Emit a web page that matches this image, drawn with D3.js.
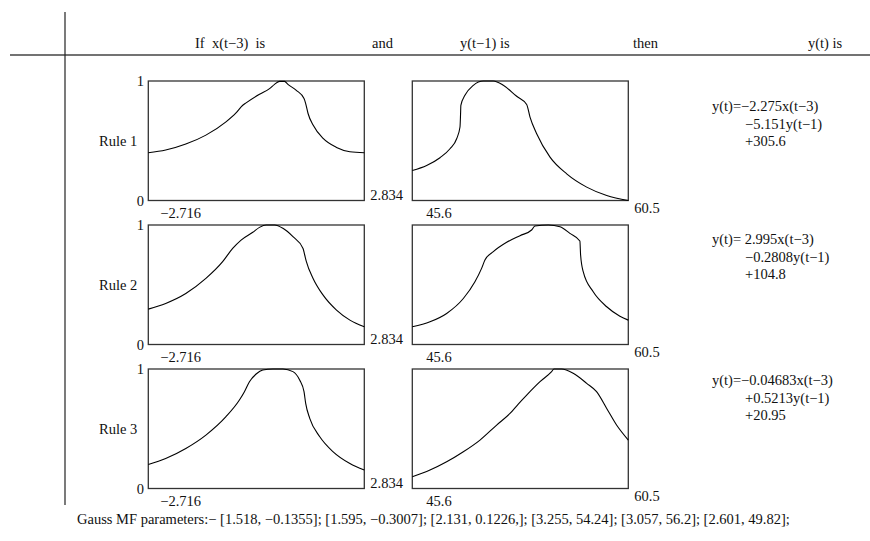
<!DOCTYPE html>
<html>
<head>
<meta charset="utf-8">
<script src="https://cdn.jsdelivr.net/npm/d3@7/dist/d3.min.js"></script>
<style>
  html, body { margin: 0; padding: 0; background: #fff; }
  svg { display: block; }
  text { font-family: "Liberation Serif", "Times New Roman", serif; font-size: 14.5px; fill: #111; white-space: pre; }
</style>
</head>
<body>
<svg id="chart" width="870" height="541"></svg>
<script>
// Column headings of the rule table
const headers = ["If  x(t\u22123)  is", "and", "y(t\u22121) is", "then", "y(t) is"];
const headerX = [195, 372, 460, 633, 808];

// Rule names
const rules = ["Rule 1", "Rule 2", "Rule 3"];

// Input ranges
const xRange = [-2.716, 2.834];
const yRange = [45.6, 60.5];
const muTicks = [0, 1];

// Membership curves of x(t-3), one per rule: [x, membership]
const xMF1 = [[-2.716,0.400],[-2.269,0.422],[-1.752,0.472],[-1.236,0.547],[-0.720,0.658],[-0.462,0.733],[-0.289,0.797],[-0.203,0.817],[0.141,0.889],[0.399,0.936],[0.528,0.972],[0.657,0.997],[0.786,0.997],[0.872,0.972],[1.087,0.922],[1.285,0.853],[1.328,0.811],[1.389,0.728],[1.518,0.631],[1.776,0.519],[2.120,0.444],[2.464,0.408],[2.834,0.400]];
const xMF2 = [[-2.716,0.296],[-2.269,0.344],[-1.752,0.427],[-1.236,0.553],[-0.806,0.693],[-0.548,0.804],[-0.332,0.874],[-0.031,0.939],[0.141,0.980],[0.313,1.000],[0.528,1.000],[0.743,0.972],[1.001,0.902],[1.260,0.804],[1.303,0.749],[1.346,0.693],[1.518,0.553],[1.776,0.413],[2.120,0.288],[2.464,0.204],[2.834,0.148]];
const xMF3 = [[-2.716,0.201],[-2.269,0.251],[-1.752,0.335],[-1.236,0.447],[-0.720,0.601],[-0.375,0.740],[-0.246,0.810],[-0.117,0.894],[0.055,0.958],[0.227,0.992],[0.485,1.000],[0.743,1.000],[1.001,0.978],[1.173,0.908],[1.285,0.810],[1.328,0.712],[1.432,0.587],[1.690,0.433],[2.034,0.307],[2.464,0.209],[2.834,0.154]];

// Membership curves of y(t-1), one per rule: [y, membership]
const yMF1 = [[45.60,0.251],[46.59,0.293],[47.51,0.358],[48.20,0.433],[48.66,0.517],[48.89,0.615],[48.93,0.726],[48.95,0.796],[49.23,0.880],[49.81,0.964],[50.50,1.000],[51.19,1.000],[51.88,0.964],[52.80,0.872],[53.49,0.804],[53.72,0.698],[54.18,0.559],[55.10,0.363],[56.25,0.223],[57.63,0.112],[59.01,0.042],[60.50,0.000]];
const yMF2 = [[45.60,0.148],[46.82,0.190],[47.97,0.260],[49.12,0.385],[49.92,0.525],[50.38,0.637],[50.61,0.707],[51.19,0.777],[52.11,0.855],[53.03,0.911],[53.83,0.958],[54.06,0.992],[54.98,1.000],[55.79,0.986],[56.47,0.930],[57.16,0.866],[57.21,0.749],[57.39,0.609],[58.08,0.441],[59.01,0.316],[59.92,0.237],[60.50,0.204]];
const yMF3 = [[45.60,0.098],[46.82,0.154],[47.97,0.223],[49.12,0.307],[50.27,0.405],[51.42,0.531],[52.34,0.628],[52.91,0.707],[53.49,0.782],[54.41,0.894],[55.21,0.978],[55.37,1.000],[55.90,1.000],[56.70,0.964],[57.63,0.880],[58.31,0.810],[59.01,0.670],[59.69,0.531],[60.50,0.405]];

const xMFs = [xMF1, xMF2, xMF3];
const yMFs = [yMF1, yMF2, yMF3];

// Consequent equations of each rule
const conseq = [
  ["y(t)=\u22122.275x(t\u22123)", "\u22125.151y(t\u22121)", "+305.6"],
  ["y(t)= 2.995x(t\u22123)", "\u22120.2808y(t\u22121)", "+104.8"],
  ["y(t)=\u22120.04683x(t\u22123)", "+0.5213y(t\u22121)", "+20.95"]
];

const footer = "Gauss MF parameters:\u2212 [1.518, \u22120.1355]; [1.595, \u22120.3007]; [2.131, 0.1226,]; [3.255, 54.24]; [3.057, 56.2]; [2.601, 49.82];";

const svg = d3.select("#chart");

// Table frame
svg.append("line").attr("x1", 10).attr("x2", 870).attr("y1", 55).attr("y2", 55)
  .attr("stroke", "#444").attr("stroke-width", 1.5);
svg.append("line").attr("x1", 65).attr("x2", 65).attr("y1", 12).attr("y2", 505)
  .attr("stroke", "#222").attr("stroke-width", 1.2);

svg.selectAll("text.hdr").data(headers).join("text")
  .attr("class", "hdr")
  .attr("x", (d, i) => headerX[i]).attr("y", 48)
  .text(d => d);

// Panel geometry
const panelW = 216, panelH = 119.5;
const leftX0 = 148.3, rightX0 = 412.3;
const rowTop = [81, 225, 369];
const eqY = [111, 244, 385];

const mu = d3.scaleLinear().domain([0, 1]).range([panelH, 0]);
const sx = d3.scaleLinear().domain(xRange).range([0, panelW]);
const sy = d3.scaleLinear().domain(yRange).range([0, panelW]);

function panel(g, scale, pts) {
  g.append("rect").attr("width", panelW).attr("height", panelH)
    .attr("fill", "none").attr("stroke", "#333").attr("stroke-width", 1.3);
  const line = d3.line().x(d => scale(d[0])).y(d => mu(d[1])).curve(d3.curveMonotoneX);
  g.append("path").datum(pts).attr("d", line)
    .attr("fill", "none").attr("stroke", "#000").attr("stroke-width", 1.1);
}

rules.forEach((name, i) => {
  const top = rowTop[i];
  const gl = svg.append("g").attr("transform", `translate(${leftX0},${top})`);
  panel(gl, sx, xMFs[i]);
  const gr = svg.append("g").attr("transform", `translate(${rightX0},${top})`);
  panel(gr, sy, yMFs[i]);

  // membership ticks 0 and 1
  gl.selectAll("text.mu").data(muTicks).join("text")
    .attr("class", "mu").attr("x", -8).attr("text-anchor", "middle")
    .attr("y", d => mu(d) + 5).text(d => d);

  gl.append("text").attr("x", -11).attr("y", panelH / 2 + 5)
    .attr("text-anchor", "end").text(name);

  // range labels of x(t-3)
  gl.append("text").attr("x", sx(xRange[0]) + 12).attr("y", panelH + 17)
    .text(String(xRange[0]).replace("-", "\u2212"));
  gl.append("text").attr("x", sx(xRange[1]) + 6).attr("y", panelH - 1)
    .text(xRange[1]);

  // range labels of y(t-1)
  gr.append("text").attr("x", sy(yRange[0]) + 14).attr("y", panelH + 17)
    .text(yRange[0]);
  gr.append("text").attr("x", sy(yRange[1]) + 6).attr("y", panelH + 12)
    .text(yRange[1]);

  // consequent
  svg.selectAll(`text.eq${i}`).data(conseq[i]).join("text")
    .attr("class", `eq${i}`)
    .attr("x", (d, j) => j === 0 ? 712 : 745)
    .attr("y", (d, j) => eqY[i] + j * 17.5)
    .text(d => d);
});

svg.append("text").attr("x", 77).attr("y", 524).text(footer);
</script>
</body>
</html>
